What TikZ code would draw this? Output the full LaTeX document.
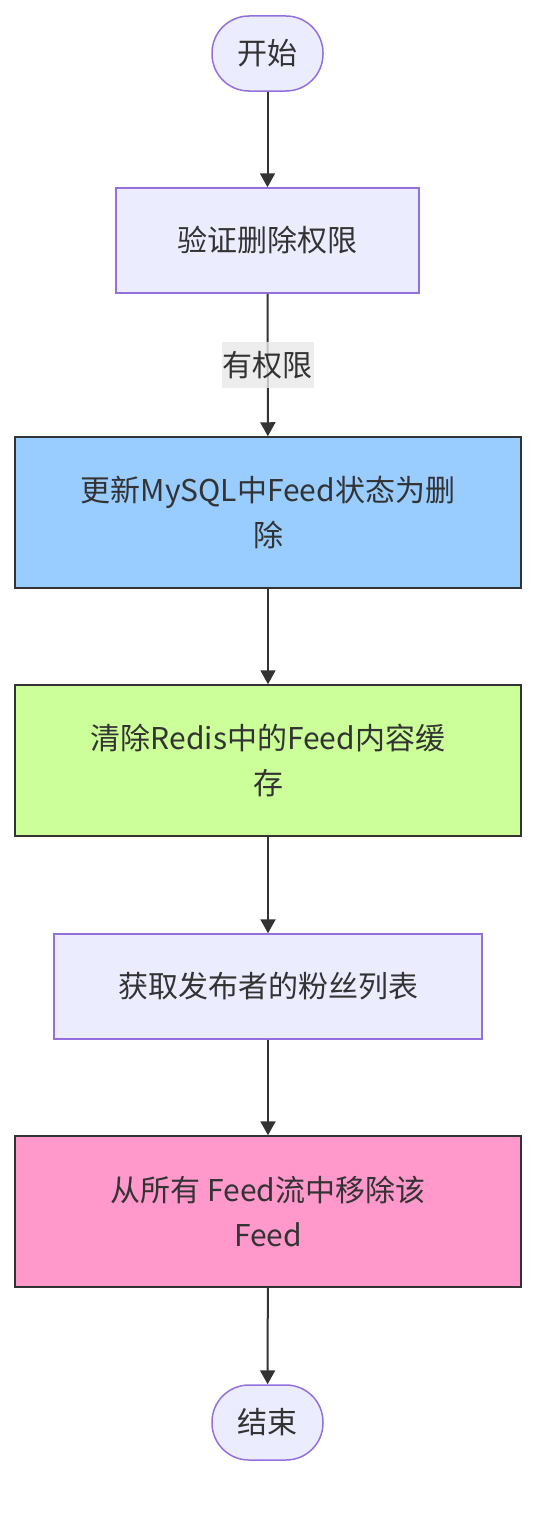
\documentclass[tikz,border=0pt]{standalone}
\usepackage{fontspec}
\setmainfont{Noto Sans CJK SC}
\definecolor{mmlav}{HTML}{ECECFF}
\definecolor{mmpurple}{HTML}{9370DB}
\definecolor{mmdark}{HTML}{333333}
\definecolor{mmblue}{HTML}{99CCFF}
\definecolor{mmgreen}{HTML}{CCFF99}
\definecolor{mmpink}{HTML}{FF99CC}
\definecolor{mmlblbg}{HTML}{E8E8E8}
\usetikzlibrary{arrows.meta,positioning}

\begin{document}
\begin{tikzpicture}[x=1pt, y=-1pt,
        term/.style={rectangle, rounded corners=37pt, minimum width=111pt, minimum height=75pt,
          draw=mmpurple, fill=mmlav, line width=1.5pt, text=mmdark, font=\fontsize{30}{45}\selectfont},
        proc/.style={rectangle, minimum height=105pt, draw=mmpurple, fill=mmlav, line width=1.5pt,
          text=mmdark, font=\fontsize{30}{45}\selectfont},
        hl/.style={rectangle, minimum width=506pt, minimum height=151pt, draw=mmdark, line width=1.5pt,
          text=mmdark, align=center, font=\fontsize{30}{45}\selectfont},
        flow/.style={draw=mmdark, line width=2pt, -{Triangle[length=14pt, width=15pt]}},
        elbl/.style={rectangle, fill=mmlblbg, fill opacity=0.8, text opacity=1, text=mmdark,
          minimum width=92pt, minimum height=46pt, inner sep=0pt, font=\fontsize{30}{45}\selectfont}
      ]
        \useasboundingbox (0,0) rectangle (552,1520);

        % start / verify
        \node[term] (start) at (267.5,53.5) {开始};
        \node[proc, minimum width=303pt] (auth) at (267.5,240.5) {验证删除权限};

        % highlighted steps
        \node[hl, fill=mmblue]  (mysql) at (268,512.5)  {更新MySQL中Feed状态为删\\除};
        \node[hl, fill=mmgreen] (redis) at (268,760.5)  {清除Redis中的Feed内容缓\\存};
        \node[proc, minimum width=428pt] (fans) at (268,986.5) {获取发布者的粉丝列表};
        \node[hl, fill=mmpink]  (purge) at (268,1211.5) {从所有 Feed流中移除该\\Feed};

        % end
        \node[term] (stop) at (267.5,1422.5) {结束};

        % connectors
        \draw[flow] (start) -- (auth);
        \draw[flow] (auth) -- node[elbl] (ok) {有权限} (mysql);
        \draw[flow] (mysql) -- (redis);
        \draw[flow] (redis) -- (fans);
        \draw[flow] (fans) -- (purge);
        \draw[flow] (purge) -- (stop);
      \end{tikzpicture}
\end{document}
